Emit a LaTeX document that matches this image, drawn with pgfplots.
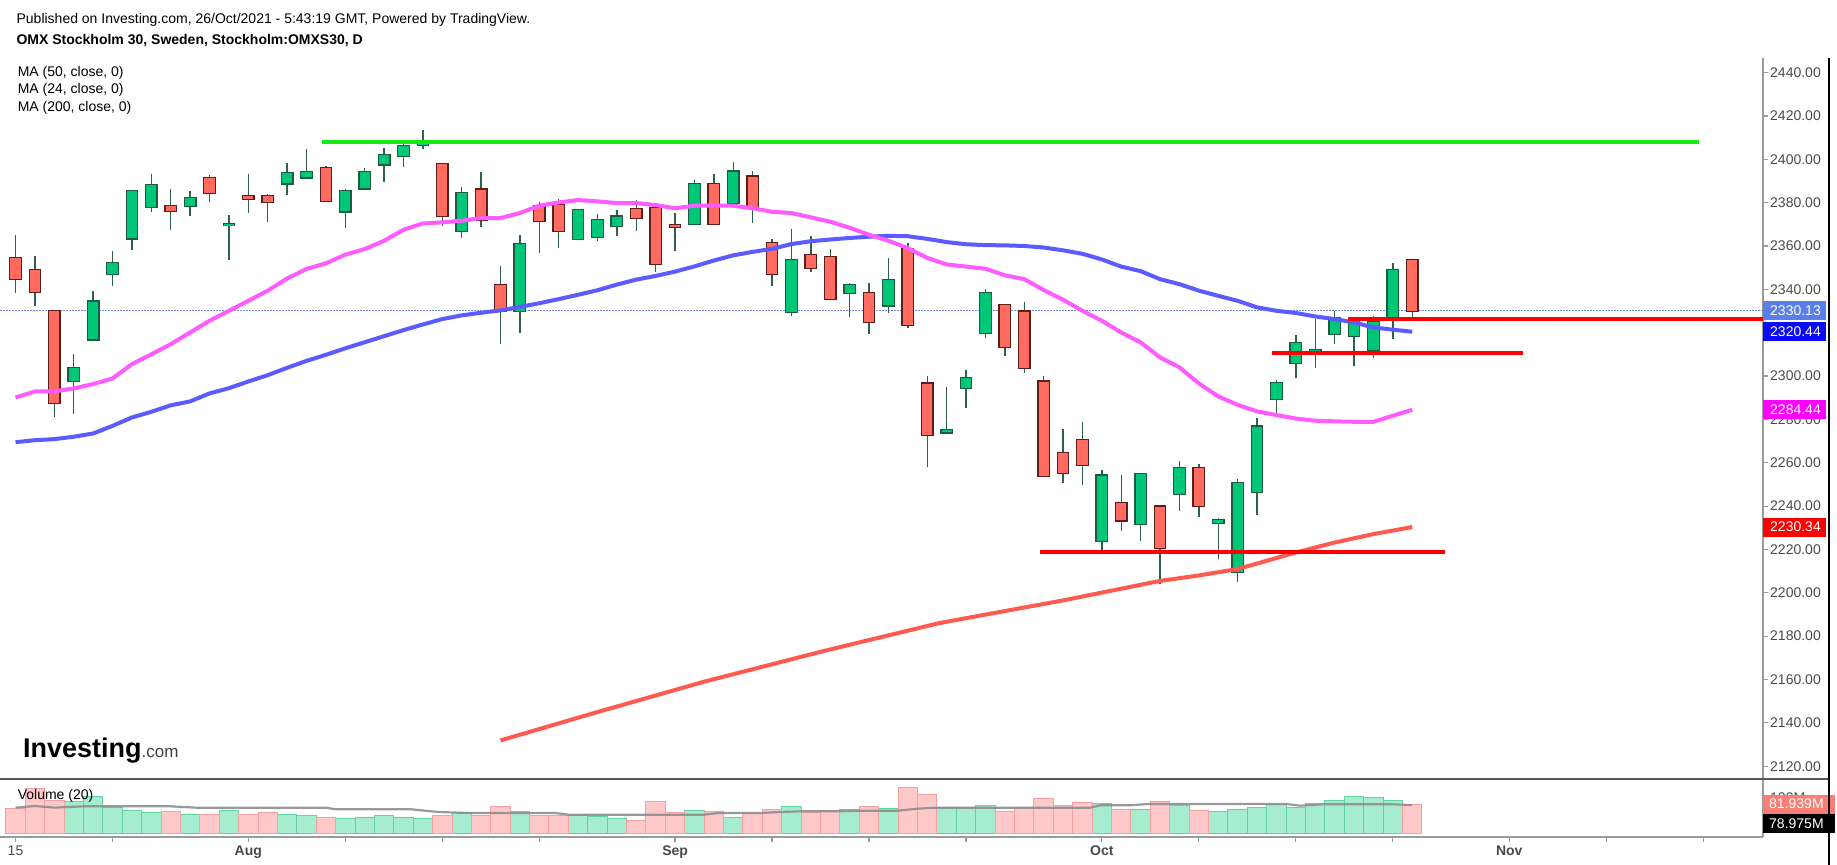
\documentclass[border=0pt]{standalone}
\usepackage{pgfplots}
\pgfplotsset{compat=1.18}
\usepackage{pgfplotstable}
\usepackage{fontspec}
\setmainfont{Liberation Sans}

\definecolor{upfill}{HTML}{00C777}
\definecolor{upedge}{HTML}{1E5C40}
\definecolor{dnfill}{HTML}{FF6B61}
\definecolor{dnedge}{HTML}{5E1F1A}
\definecolor{wick}{HTML}{2F6049}
\definecolor{maBlue}{HTML}{5B5BFF}
\definecolor{maPink}{HTML}{FF5CFF}
\definecolor{maRed}{HTML}{FF5A50}
\definecolor{hGreen}{HTML}{14EB14}
\definecolor{hRed}{HTML}{FF0000}
\definecolor{dotBlue}{HTML}{6A8CF0}
\definecolor{volUp}{HTML}{A6EDCF}
\definecolor{volUpEdge}{HTML}{62D4A2}
\definecolor{volDn}{HTML}{FFC9C9}
\definecolor{volDnEdge}{HTML}{F5A0A0}
\definecolor{volMA}{HTML}{8E8E8E}
\definecolor{axisgrey}{HTML}{9A9A9A}
\definecolor{sepgrey}{HTML}{5A5A5A}
\definecolor{labelgrey}{HTML}{4A4A4A}
\definecolor{boxLast}{HTML}{5A7FE8}
\definecolor{boxBlue}{HTML}{0A0AFA}
\definecolor{boxPink}{HTML}{FF00FF}
\definecolor{boxRed}{HTML}{FF0000}
\definecolor{boxVol}{HTML}{F97F76}

\newcommand{\pf}{\fontsize{14bp}{16bp}\selectfont}

% candles: index, open, high, low, close
\pgfplotstableread{
i o h l c
3 2297.8 2310.1 2282.4 2303.7
4 2316.9 2339.1 2316.5 2334.3
5 2347.1 2357.8 2341.7 2352.1
6 2363.5 2385.6 2358.3 2385.2
7 2378.1 2393.2 2375.5 2388.1
9 2378.6 2385.2 2374.0 2382.1
11 2369.6 2374.3 2353.7 2370.0
14 2388.9 2398.1 2383.5 2393.5
15 2391.7 2404.8 2391.5 2394.0
17 2376.0 2386.3 2368.1 2385.4
18 2386.6 2396.1 2386.3 2394.0
19 2397.7 2405.4 2389.4 2402.0
20 2401.5 2406.9 2396.3 2406.1
21 2406.8 2413.5 2404.8 2407.8
23 2367.0 2387.1 2363.7 2384.3
26 2330.1 2365.1 2319.7 2360.9
29 2363.2 2377.1 2363.0 2376.6
30 2364.3 2374.7 2362.4 2372.0
31 2369.4 2376.6 2364.7 2373.5
35 2370.1 2390.4 2369.8 2388.6
37 2379.8 2398.6 2377.8 2394.3
40 2329.7 2367.8 2327.8 2353.5
43 2338.3 2343.1 2327.4 2341.8
45 2332.6 2354.7 2329.0 2344.1
48 2274.0 2295.0 2273.8 2275.2
49 2294.6 2303.0 2285.4 2299.2
50 2319.8 2340.1 2317.5 2338.3
56 2224.1 2256.6 2218.6 2254.0
58 2231.7 2254.9 2224.0 2254.6
60 2245.5 2260.7 2237.8 2257.5
62 2232.3 2234.4 2215.5 2233.4
63 2209.8 2252.4 2205.0 2250.6
64 2246.6 2280.6 2236.1 2276.6
65 2289.4 2298.0 2282.3 2296.7
66 2306.0 2318.9 2299.0 2315.1
67 2310.1 2326.3 2303.7 2312.0
68 2319.4 2330.1 2314.6 2326.7
69 2318.7 2327.0 2304.7 2326.3
70 2312.0 2327.8 2308.3 2325.0
71 2327.4 2352.3 2317.0 2348.9
}\upcandles

\pgfplotstableread{
i o h l c
0 2354.4 2365.1 2338.1 2344.7
1 2348.9 2355.2 2332.4 2338.9
2 2330.1 2330.5 2280.9 2287.5
8 2378.3 2386.3 2367.5 2376.3
10 2391.4 2392.7 2380.1 2384.4
12 2382.9 2393.2 2375.2 2381.7
13 2382.9 2384.0 2371.2 2380.4
16 2395.8 2397.1 2380.5 2380.8
22 2397.7 2398.0 2369.1 2374.0
24 2386.0 2394.2 2368.6 2372.0
25 2341.9 2350.6 2314.7 2330.1
27 2378.1 2380.1 2356.6 2371.7
28 2378.9 2381.7 2358.9 2367.0
32 2377.1 2381.2 2367.0 2372.9
33 2377.5 2379.8 2347.8 2351.7
34 2369.5 2375.4 2357.8 2369.0
36 2388.6 2393.2 2369.8 2370.1
38 2392.0 2394.4 2370.4 2378.1
39 2361.4 2363.2 2341.7 2347.1
41 2355.7 2364.4 2348.1 2349.8
42 2355.0 2358.6 2335.2 2335.5
44 2338.3 2342.9 2319.4 2325.1
46 2358.6 2361.4 2322.4 2323.5
47 2296.5 2300.2 2257.9 2272.8
51 2332.6 2333.0 2309.4 2313.5
52 2329.7 2334.0 2301.2 2303.8
53 2297.4 2299.8 2253.7 2254.0
54 2264.4 2275.5 2250.6 2255.2
55 2270.3 2278.6 2249.8 2259.2
57 2241.4 2254.3 2228.6 2233.4
59 2239.7 2240.0 2204.0 2220.7
61 2257.5 2259.4 2235.0 2240.1
72 2353.5 2354.0 2327.4 2330.13
}\dncandles

% volume (millions)
\pgfplotstableread{
i v
3 89.3
4 102.9
5 72
6 64.7
7 58.3
9 54.6
11 64.7
14 54.6
15 49.2
17 41
18 44.6
19 49.2
20 44.6
21 41
23 58.3
26 61.9
29 50.1
30 48.3
31 41
35 64.7
37 44.6
40 76.5
43 68.3
45 69.2
48 72
49 72
50 78.3
56 82
58 68.3
60 78.3
62 61.9
63 68.3
64 72
65 80.1
66 72.9
67 82
68 92
69 103.8
70 100.2
71 92
}\volup

\pgfplotstableread{
i v
0 69.2
1 123.9
2 92
8 61.9
10 54.6
12 54.6
13 58.3
16 44.6
22 51.9
24 51.9
25 76.5
27 51.9
28 49.2
32 37.3
33 89.3
34 59.2
36 61.9
38 55.6
39 68.3
41 59.2
42 64.7
44 76.5
46 127.5
47 109.3
51 61.9
52 72
53 96.5
54 78.3
55 86.5
57 68.3
59 89.3
61 64.7
72 81.939
}\voldn

\begin{document}
\begin{tikzpicture}[x=1bp,y=1bp]
\useasboundingbox[fill=white] (0bp,0bp) rectangle (1837bp,865bp);

% ---------------- price pane ----------------
\begin{axis}[
  at={(0bp,86bp)}, anchor=south west, width=1763bp, height=721bp, scale only axis,
  xmin=-0.8, xmax=90.08, ymin=2114.1, ymax=2446.74,
  axis x line=none, axis y line*=right,
  axis line style={-, draw=axisgrey, line width=1.5bp},
  xtick=\empty,
  ytick={2120,2140,...,2440},
  tick align=outside, major tick length=5bp,
  tick style={draw=axisgrey, line width=1.2bp},
  yticklabel={\pgfmathprintnumber[fixed,fixed zerofill,precision=2,1000 sep={},assume math mode=true]{\tick}},
  yticklabel style={font=\pf, text=labelgrey, anchor=west, inner sep=0pt, xshift=2bp},
  clip mode=individual,
]
% last price dotted line
\addplot[dotBlue, line width=1bp, dash pattern=on 1.5bp off 1.5bp] coordinates {(-0.8,2330.13) (90.08,2330.13)};

% wicks
\addplot[draw=none, mark=none, error bars/.cd, y dir=both, y explicit, error mark=none,
  error bar style={draw=wick, line width=1.3bp}]
  table[x=i, y expr={(\thisrow{h}+\thisrow{l})/2}, y error expr={(\thisrow{h}-\thisrow{l})/2}] {\upcandles};
\addplot[draw=none, mark=none, error bars/.cd, y dir=both, y explicit, error mark=none,
  error bar style={draw=wick, line width=1.3bp}]
  table[x=i, y expr={(\thisrow{h}+\thisrow{l})/2}, y error expr={(\thisrow{h}-\thisrow{l})/2}] {\dncandles};
% bodies: border then fill
\addplot[draw=none, mark=none, error bars/.cd, y dir=both, y explicit, error mark=none,
  error bar style={draw=upedge, line width=12.8bp}]
  table[x=i, y expr={(\thisrow{o}+\thisrow{c})/2}, y error expr={(\thisrow{c}-\thisrow{o})/2+0.6}] {\upcandles};
\addplot[draw=none, mark=none, error bars/.cd, y dir=both, y explicit, error mark=none,
  error bar style={draw=upfill, line width=10.2bp}]
  table[x=i, y expr={(\thisrow{o}+\thisrow{c})/2}, y error expr={(\thisrow{c}-\thisrow{o})/2}] {\upcandles};
\addplot[draw=none, mark=none, error bars/.cd, y dir=both, y explicit, error mark=none,
  error bar style={draw=dnedge, line width=12.8bp}]
  table[x=i, y expr={(\thisrow{o}+\thisrow{c})/2}, y error expr={(\thisrow{o}-\thisrow{c})/2+0.6}] {\dncandles};
\addplot[draw=none, mark=none, error bars/.cd, y dir=both, y explicit, error mark=none,
  error bar style={draw=dnfill, line width=10.2bp}]
  table[x=i, y expr={(\thisrow{o}+\thisrow{c})/2}, y error expr={(\thisrow{o}-\thisrow{c})/2}] {\dncandles};

% MA 200
\addplot[maRed, line width=4bp, line join=round] coordinates {
(25,2131.9) (30,2145) (35.5,2159) (41.6,2173) (47.6,2186) (54,2196.5) (59,2205.5)
(61,2208) (63,2211) (64,2213.5) (66,2218.6) (68,2223.2) (70,2227.1) (72,2230.34)};
% MA 50
\addplot[maBlue, line width=4bp, line join=round] coordinates {
(0,2269.5) (1,2270.4) (2,2270.9) (3,2272) (4,2273.5) (5,2277) (6,2280.9) (7,2283.5)
(8,2286.5) (9,2288.3) (10,2292) (11,2294.4) (12,2297.5) (13,2300.4) (14,2303.8)
(15,2307) (16,2309.8) (17,2312.8) (18,2315.6) (19,2318.4) (20,2321.2) (21,2323.8)
(22,2326.3) (23,2328) (24,2329.2) (25,2330.3) (26,2331.9) (27,2333.6) (28,2335.5)
(29,2337.5) (30,2339.6) (31,2342.2) (32,2344.5) (33,2346.2) (34,2348.2) (35,2350.6)
(36,2353.3) (37,2355.7) (38,2357.3) (39,2358.7) (40,2360.9) (41,2362.2) (42,2363.0)
(43,2363.7) (44,2364.3) (45,2364.7) (46,2364.5) (47,2363.3) (48,2361.8) (49,2360.8)
(50,2360.4) (51,2360.3) (52,2360.0) (53,2359.3) (54,2358.0) (55,2356.4) (56,2353.8)
(57,2350.5) (58,2348.4) (59,2344.7) (60,2342.4) (61,2339.4) (62,2337.0) (63,2334.7)
(64,2331.7) (65,2330.1) (66,2329.1) (67,2327.5) (68,2326.3) (69,2324.7) (70,2322.4)
(71,2321.4) (72,2320.44)};
% MA 24
\addplot[maPink, line width=4bp, line join=round] coordinates {
(0,2290.1) (1,2292.9) (2,2292.9) (3,2294.3) (4,2296.3) (5,2298.9) (6,2305.5) (7,2310)
(8,2314.7) (9,2320.1) (10,2325.5) (11,2330.1) (12,2334.7) (13,2339.4) (14,2345.0)
(15,2349.4) (16,2352.0) (17,2356.0) (18,2358.6) (19,2362.4) (20,2367.5) (21,2370.4)
(22,2370.9) (23,2371.7) (24,2372.9) (25,2372.9) (26,2375.2) (27,2378.6) (28,2380.1)
(29,2381.2) (30,2380.6) (31,2379.8) (32,2379.8) (33,2378.9) (34,2377.4) (35,2378.6)
(36,2378.6) (37,2378.6) (38,2377.4) (39,2375.8) (40,2375.2) (41,2373.2) (42,2371.2)
(43,2368.4) (44,2365.2) (45,2362.4) (46,2359) (47,2354.5) (48,2351.5) (49,2350.5)
(50,2349.5) (51,2346.5) (52,2344.7) (53,2339.7) (54,2335.2) (55,2330.1) (56,2325.5)
(57,2320.1) (58,2315.5) (59,2308.6) (60,2304.0) (61,2296.6) (62,2290.6) (63,2286.7)
(64,2283.7) (65,2282.0) (66,2280.4) (67,2279.4) (68,2279.1) (69,2278.9) (70,2278.9)
(71,2281.7) (72,2284.44)};

% drawn horizontal levels
\addplot[hGreen, line width=4bp] coordinates {(15.8,2408) (86.8,2408)};
\addplot[hRed, line width=4bp] coordinates {(52.8,2218.9) (73.7,2218.9)};
\addplot[hRed, line width=4bp] coordinates {(64.75,2310.6) (77.7,2310.6)};
\addplot[hRed, line width=4bp] coordinates {(68.7,2326.3) (90.08,2326.3)};

% price boxes
\tikzset{pbox/.style={anchor=west, font=\pf, text=white, minimum height=19bp,
  inner xsep=7bp, inner ysep=0pt, text width=49bp, align=left}}
\node[pbox, fill=boxLast] at (axis cs:90.08,2330.13) {2330.13};
\node[pbox, fill=boxBlue] at (axis cs:90.08,2320.44) {2320.44};
\node[pbox, fill=boxPink] at (axis cs:90.08,2284.44) {2284.44};
\node[pbox, fill=boxRed]  at (axis cs:90.08,2230.34) {2230.34};
\end{axis}

% ---------------- volume pane ----------------
\begin{axis}[
  at={(0bp,28bp)}, anchor=south west, width=1763bp, height=58bp, scale only axis,
  xmin=-0.8, xmax=90.08, ymin=-8.2, ymax=150.3,
  axis x line*=bottom, axis y line*=right,
  axis line style={-},
  x axis line style={draw=axisgrey, line width=2bp},
  y axis line style={draw=axisgrey, line width=1.5bp},
  xtick={0,5,12,17,22,27,34,39,44,49,56,61,66,71,77,82,87},
  xticklabels={15,,\textbf{Aug},,,,\textbf{Sep},,,,\textbf{Oct},,,,\textbf{Nov},,},
  ytick={100}, yticklabels={100M},
  tick align=outside, major tick length=5bp,
  tick style={draw=axisgrey, line width=1.2bp},
  xticklabel style={font=\pf, text=labelgrey},
  yticklabel style={font=\pf, text=labelgrey, anchor=west, inner sep=0pt, xshift=2bp},
  clip mode=individual,
]
\addplot[ybar, bar width=1, bar shift=0pt, fill=volUp, draw=volUpEdge, line width=1bp] table[x=i, y=v] {\volup};
\addplot[ybar, bar width=1, bar shift=0pt, fill=volDn, draw=volDnEdge, line width=1bp] table[x=i, y=v] {\voldn};
\addplot[volMA, line width=2.2bp, opacity=0.9] coordinates {
(0,72) (1,76.5) (2,72) (3.5,75.6) (8,75.6) (9.3,72) (16,72) (16.5,67.4) (20.4,67.4)
(21.8,60.1) (23.3,57.4) (27.8,57.4) (28.5,52.8) (35.5,52.8) (36.2,57.4) (38.4,57.4)
(39.4,60.1) (40.4,61.9) (42.4,61.9) (43.4,63.8) (45.5,63.8) (46.5,69.2) (47.4,72)
(55.4,72) (55.9,78.3) (57.4,78.3) (58.4,82) (65.5,82) (66.2,77.4) (67.4,81.1)
(71,81.1) (72,79)};
\tikzset{vbox/.style={anchor=west, font=\pf, text=white, minimum height=19bp,
  inner xsep=6bp, inner ysep=0pt, text width=60bp, align=left}}
\node[vbox, fill=boxVol] at (axis cs:90.08,81.939) {81.939M};
\node[vbox, fill=black] at (axis cs:90.08,28.4) {78.975M};
\end{axis}

% pane separator and outer frame line
\draw[sepgrey, line width=1.5bp] (0bp,86bp) -- (1829bp,86bp);
\draw[black, line width=1.5bp] (1829bp,0bp) -- (1829bp,807bp);

% header texts
\node[anchor=west, inner sep=0pt, font=\pf] at (16.4bp,845bp)
  {Published on Investing.com, 26/Oct/2021 - 5:43:19 GMT, Powered by TradingView.};
\node[anchor=west, inner sep=0pt, font=\pf\bfseries] at (16.4bp,824bp)
  {OMX Stockholm 30, Sweden, Stockholm:OMXS30, D};
\node[anchor=west, inner sep=0pt, font=\pf] at (17.6bp,792.4bp) {MA (50, close, 0)};
\node[anchor=west, inner sep=0pt, font=\pf] at (17.6bp,774.8bp) {MA (24, close, 0)};
\node[anchor=west, inner sep=0pt, font=\pf] at (17.6bp,757.2bp) {MA (200, close, 0)};
\node[anchor=west, inner sep=0pt, font=\pf] at (17.6bp,69.5bp) {Volume (20)};
% logo
\node[anchor=base west, inner sep=0pt] at (23bp,107bp)
  {\fontsize{27bp}{27bp}\selectfont\bfseries Investing{\fontsize{17bp}{17bp}\selectfont\mdseries\color{black!75}.com}};
\end{tikzpicture}
\end{document}
